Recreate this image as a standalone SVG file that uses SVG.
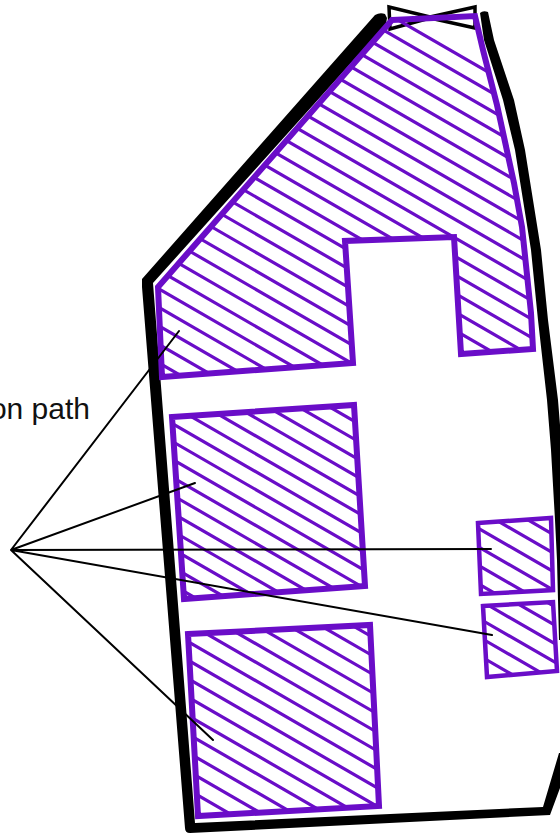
<svg xmlns="http://www.w3.org/2000/svg" width="560" height="834" viewBox="0 0 560 834">
<style>
.zone{fill:none;stroke:#6a0dc8;stroke-width:6;stroke-linejoin:miter}
.small{stroke-width:4.5}
.lead{fill:none;stroke:#000;stroke-width:2;stroke-linecap:round}
.hatch{fill:none;stroke:#6a0dc8;stroke-width:3.2}
text{font-family:"Liberation Sans",Arial,sans-serif;font-size:30px;fill:#111}
</style>
<defs>
<polygon id="p-top" points="392,20 475,16 483,50 497,105 514,183 522,227 531,313 533,349 461,354 454,237 345,241 353,363 162,377 158,287 385,28"/>
<polygon id="p-mid" points="172,417 354,405 365,586 184,599"/>
<polygon id="p-bot" points="188,634 370,625 379,806 198,816"/>
<polygon id="p-ru" points="478,523 551,518 553,590 481,594"/>
<polygon id="p-rl" points="483,606 553,602 557,671 487,677"/>
<clipPath id="c-top"><use href="#p-top"/></clipPath>
<clipPath id="c-mid"><use href="#p-mid"/></clipPath>
<clipPath id="c-bot"><use href="#p-bot"/></clipPath>
<clipPath id="c-ru"><use href="#p-ru"/></clipPath>
<clipPath id="c-rl"><use href="#p-rl"/></clipPath>
</defs>
<g id="outline" fill="#000">
<path d="M375 15Q380 12 385 14L387 18L386 24L153 283L195 823L543 807L559 753L560 753L560 788L550 815L190 833Q185 833 185 828L142 287L142 279Z"/>
<path d="M480 13Q483 10 488 12L494 40L514 100L525 150L533 200L541 250L548 320L558 400L560 425L560 640L559 640L557 560L555 520L551 450L547 400L538 320L531 250L523 200L515 150L503 100L484 40Z"/>
<path d="M389 7L430 17L475 7L475 28L430 18L390 29Z" fill="none" stroke="#000" stroke-width="3.5"/>
</g>
<g id="zone-top">
<path class="hatch" clip-path="url(#c-top)" d="M100 -152.1l500 288.7m-500 -270.2l500 288.7m-500 -270.2l500 288.7m-500 -270.2l500 288.7m-500 -270.2l500 288.7m-500 -270.2l500 288.7m-500 -270.2l500 288.7m-500 -270.2l500 288.7m-500 -270.2l500 288.7m-500 -270.2l500 288.7m-500 -270.2l500 288.7m-500 -270.2l500 288.7m-500 -270.2l500 288.7m-500 -270.2l500 288.7m-500 -270.2l500 288.7m-500 -270.2l500 288.7m-500 -270.2l500 288.7m-500 -270.2l500 288.7m-500 -270.2l500 288.7m-500 -270.2l500 288.7m-500 -270.2l500 288.7m-500 -270.2l500 288.7m-500 -270.2l500 288.7m-500 -270.2l500 288.7m-500 -270.2l500 288.7m-500 -270.2l500 288.7m-500 -270.2l500 288.7"/>
<use href="#p-top" class="zone"/>
</g>
<g id="zone-left-mid">
<path class="hatch" clip-path="url(#c-mid)" d="M100 256.5l500 288.7m-500 -270.8l500 288.7m-500 -270.8l500 288.7m-500 -270.8l500 288.7m-500 -270.8l500 288.7m-500 -270.8l500 288.7m-500 -270.8l500 288.7m-500 -270.8l500 288.7m-500 -270.8l500 288.7m-500 -270.8l500 288.7m-500 -270.8l500 288.7m-500 -270.8l500 288.7m-500 -270.8l500 288.7m-500 -270.8l500 288.7m-500 -270.8l500 288.7m-500 -270.8l500 288.7m-500 -270.8l500 288.7"/>
<use href="#p-mid" class="zone"/>
</g>
<g id="zone-left-bottom">
<path class="hatch" clip-path="url(#c-bot)" d="M100 461.3l500 288.7m-500 -270.2l500 288.7m-500 -270.2l500 288.7m-500 -270.2l500 288.7m-500 -270.2l500 288.7m-500 -270.2l500 288.7m-500 -270.2l500 288.7m-500 -270.2l500 288.7m-500 -270.2l500 288.7m-500 -270.2l500 288.7m-500 -270.2l500 288.7m-500 -270.2l500 288.7m-500 -270.2l500 288.7m-500 -270.2l500 288.7m-500 -270.2l500 288.7m-500 -270.2l500 288.7"/>
<use href="#p-bot" class="zone"/>
</g>
<g id="zone-right-upper">
<path class="hatch" clip-path="url(#c-ru)" d="M100 254.3l500 288.7m-500 -270.2l500 288.7m-500 -270.2l500 288.7m-500 -270.2l500 288.7m-500 -270.2l500 288.7m-500 -270.2l500 288.7m-500 -270.2l500 288.7"/>
<use href="#p-ru" class="zone small"/>
</g>
<g id="zone-right-lower">
<path class="hatch" clip-path="url(#c-rl)" d="M100 344.1l500 288.7m-500 -270.2l500 288.7m-500 -270.2l500 288.7m-500 -270.2l500 288.7m-500 -270.2l500 288.7m-500 -270.2l500 288.7m-500 -270.2l500 288.7"/>
<use href="#p-rl" class="zone small"/>
</g>
<g id="connectors">
<path class="lead" d="M11 550L179 331M11 550L195 483M11 550L491 549M11 550L492 635M11 550L213 740"/>
</g>
<g id="label"><text x="90" y="419" text-anchor="end">on path</text></g>
</svg>
